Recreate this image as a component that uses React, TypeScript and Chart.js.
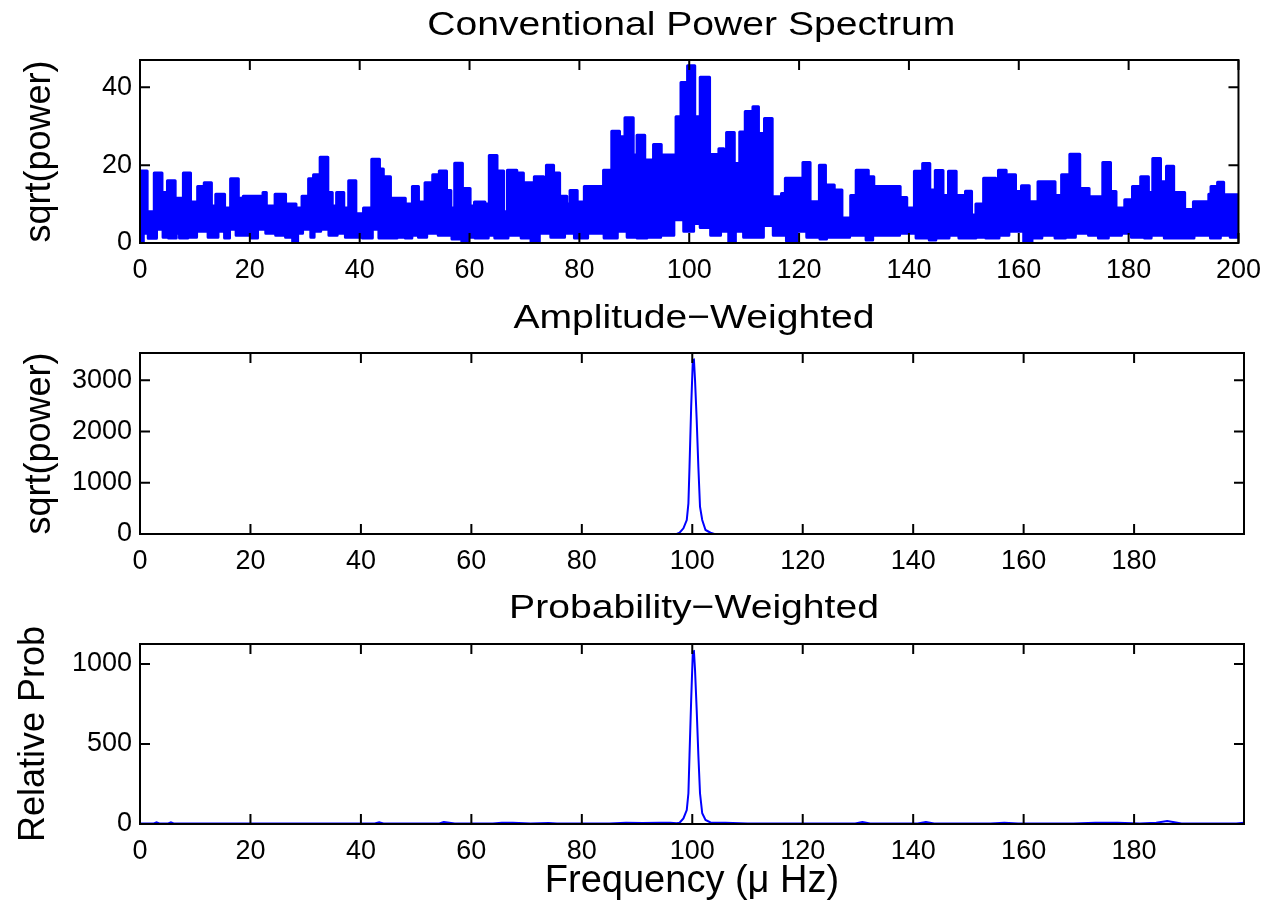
import React, { useEffect, useRef } from "react";
import { Chart, registerables } from "chart.js";

Chart.register(...registerables);

const FONT = '"Liberation Sans", Arial, Helvetica, sans-serif';
const BLUE = "#0000ff";

// ---- Panel 1: conventional power spectrum (upper / lower envelope of the dense trace) ----
const spectrumUpperFreq = [
  0, 1.3, 2.6, 4.0, 5.0, 6.4, 7.9, 9.2, 10.5, 11.7,
  13.0, 13.8, 15.4, 16.5, 17.9, 18.8, 22.4, 23.0, 24.6, 26.5,
  28.4, 29.5, 30.7, 31.6, 32.8, 34.2, 35.0, 35.8, 37.1, 38.0,
  39.3, 40.7, 42.2, 43.6, 44.3, 45.6, 48.3, 49.6, 50.7, 51.9,
  53.3, 54.5, 55.8, 56.6, 57.3, 58.7, 60.1, 60.9, 62.8, 63.6,
  65.0, 66.2, 66.9, 68.6, 69.8, 71.8, 73.5, 74.0, 75.3, 76.4,
  77.7, 78.3, 79.6, 80.9, 84.4, 85.9, 87.3, 88.3, 89.8, 90.5,
  91.9, 93.5, 94.9, 97.6, 98.5, 99.7, 101.0, 102.0, 103.7, 105.4,
  106.3, 106.8, 108.2, 109.2, 110.2, 111.6, 112.6, 113.7, 115.1, 116.8,
  117.5, 120.7, 122.0, 123.7, 124.8, 126.4, 127.8, 129.4, 130.4, 132.6,
  133.6, 138.4, 139.6, 141.0, 142.5, 143.8, 144.8, 146.2, 147.2, 148.6,
  150.3, 151.4, 152.2, 153.6, 155.8, 156.3, 157.7, 158.1, 159.4, 160.5,
  161.9, 163.5, 166.6, 167.8, 169.3, 171.1, 172.8, 175.3, 176.7, 177.7,
  179.3, 180.7, 182.2, 183.6, 184.4, 185.8, 186.9, 188.2, 190.2, 191.8,
  194.6, 195.0, 196.2, 197.3, 200,
];
const spectrumUpperValues = [
  18.5, 8, 18, 13, 16, 11.5, 18, 10.5, 14.5, 15.5,
  9.5, 12.5, 9, 16.5, 11.5, 12, 13, 9.5, 12.5, 10,
  9, 12, 16.5, 17.5, 22, 13, 9.5, 13, 9, 16,
  7.5, 9, 21.5, 19, 17, 11.5, 10, 14.5, 10.5, 15.5,
  17.5, 18.5, 13.5, 9, 20.5, 14, 9.5, 10.5, 10, 22.5,
  18.5, 8, 18.7, 18, 15.5, 17, 12, 20, 18, 12,
  10, 13.5, 10.5, 14.5, 18.7, 28.7, 27.3, 32.2, 22.6, 27.7,
  21.3, 25.3, 22.6, 32.4, 41.2, 45.5, 32.4, 42.6, 22.7, 24.2,
  18, 28.4, 20.4, 28.5, 33.8, 35, 28.1, 32, 11.9, 12.7,
  16.6, 20.7, 10.6, 20, 14.9, 13.6, 6.4, 12.2, 18.7, 17,
  14.5, 11.7, 9, 18.4, 20.4, 13.6, 18.6, 12.2, 18.4, 12.2,
  13.3, 7.2, 10, 16.6, 12.2, 18.7, 12.7, 17.5, 13.2, 14.7,
  10.6, 15.7, 12.2, 17.5, 22.8, 14, 11.9, 20.7, 13.2, 9,
  11.1, 14.5, 17, 13, 21.7, 15.7, 19.7, 13, 8.6, 10.6,
  12.5, 14.5, 15.6, 12.4, 12.4,
];
const spectrumLowerFreq = [
  0, 0.6, 1.5, 3.0, 4.2, 5.2, 6.6, 7.2, 8.7, 10.3,
  12.4, 14.2, 15.4, 16.3, 17.5, 18.7, 20.2, 21.4, 22.9, 24.7,
  26.5, 27.8, 28.7, 29.6, 31.1, 31.7, 32.9, 34.4, 35.9, 37.4,
  39.2, 40.5, 42.3, 43.5, 46.8, 48.3, 49.5, 50.7, 52.2, 54.3,
  56.8, 58.6, 59.8, 61.0, 63.4, 64.6, 67.0, 69.4, 71.2, 72.7,
  74.8, 77.3, 79.1, 81.5, 84.5, 86.9, 88.7, 90.5, 92.3, 94.8,
  97.2, 99.0, 100.8, 102.0, 103.9, 105.7, 107.2, 108.4, 109.9, 113.5,
  115.3, 117.7, 119.6, 121.4, 123.8, 125.0, 127.4, 129.2, 132.2, 133.4,
  138.3, 141.3, 143.7, 144.9, 147.3, 149.1, 152.2, 154.0, 156.4, 158.2,
  160.9, 162.4, 164.2, 166.6, 168.5, 170.3, 172.7, 174.5, 176.3, 178.7,
  180.5, 182.9, 184.1, 186.5, 188.9, 191.9, 194.9, 196.7, 198.5, 200,
];
const spectrumLowerValues = [
  0, 2.5, 1.2, 3.5, 1.5, 1.3, 2.5, 1.3, 1.5, 3,
  1.5, 3, 1.3, 3.5, 2, 2, 1.3, 3.5, 2.5, 2,
  1.5, 0, 2.5, 3.5, 1.5, 3, 3.5, 2, 2.5, 1.5,
  1.5, 1.3, 3.5, 1.3, 1.5, 1.3, 2, 1.5, 2.5, 2,
  1, 0, 1.5, 1.3, 2, 1.3, 2, 1.3, 0, 2.5,
  1.5, 2.5, 1.3, 2.5, 1.3, 3, 1.5, 1.3, 1.5, 2,
  6, 3, 5, 4, 2, 3, 0, 3, 1.5, 4.5,
  2, 0.5, 3, 1.5, 1, 1.5, 1.5, 2, 0.8, 2,
  2.5, 1.3, 0.8, 1.3, 2, 1.3, 1.5, 1.3, 2, 3,
  0, 1.3, 2, 1.3, 1.5, 2.5, 2, 1.3, 2, 2.5,
  1.5, 1.3, 2, 1.3, 1.3, 2, 1.3, 2, 1.5, 1.5,
];

// ---- Panel 2: amplitude-weighted ----
const ampFreq = [0, 97.2, 97.7, 98.4, 99.0, 99.3, 99.5, 99.8, 100.1, 100.3, 100.5, 100.8, 101.1, 101.4, 101.8, 102.4, 103.3, 104.0, 199.9];
const ampValues = [0, 0, 25, 111, 273, 598, 1312, 2481, 3392, 3400, 3002, 2222, 1312, 532, 273, 78, 25, 0, 0];

// ---- Panel 3: probability-weighted ----
const probFreq = [
  0, 2.5, 3.0, 3.5, 5.1, 5.6, 6.1, 42.5, 43.3, 44.1,
  54.2, 55.0, 56.0, 57.0, 63.9, 65.5, 67.5, 70.7, 74.0, 75.5,
  85.0, 88.0, 91.0, 94.0, 96.0, 97.2, 97.7, 98.4, 99.0, 99.3,
  99.5, 99.8, 100.1, 100.3, 100.5, 100.8, 101.1, 101.4, 101.8, 102.4,
  103.3, 104.0, 106.0, 110.0, 129.5, 130.8, 132.2, 140.8, 142.3, 143.8,
  154.0, 156.5, 159.0, 169.0, 173.0, 177.0, 181.0, 184.0, 186.0, 188.6,
  198.5, 199.9,
];
const probValues = [
  3, 3, 10, 3, 3, 10, 3, 3, 10, 3,
  3, 12, 8, 3, 3, 8, 8, 3, 6, 3,
  3, 8, 6, 8, 8, 5, 8, 35, 87, 192,
  431, 775, 1077, 1080, 962, 712, 431, 192, 67, 25,
  10, 8, 8, 3, 3, 12, 3, 3, 12, 3,
  3, 8, 3, 3, 8, 8, 3, 8, 18, 3,
  3, 8,
];

// ---- axes ----
const topXTicks = [0, 20, 40, 60, 80, 100, 120, 140, 160, 180, 200];
const lowerXTicks = [0, 20, 40, 60, 80, 100, 120, 140, 160, 180];
const topYTicks = [0, 20, 40];
const ampYTicks = [0, 1000, 2000, 3000];
const probYTicks = [0, 500, 1000];

const titles = ["Conventional Power Spectrum", "Amplitude\u2212Weighted", "Probability\u2212Weighted"];
const yLabels = ["sqrt(power)", "sqrt(power)", "Relative Prob"];
const xLabel = "Frequency (\u03bc Hz)";

function pts(xs: number[], ys: number[]) {
  const n = Math.min(xs.length, ys.length);
  const out: { x: number; y: number }[] = [];
  for (let i = 0; i < n; i++) out.push({ x: xs[i], y: ys[i] });
  return out;
}

const framePlugin = {
  id: "frameTitle",
  afterDatasetsDraw(chart: any, _args: any, opts: any) {
    const { ctx, chartArea: a, scales } = chart;
    ctx.save();
    ctx.strokeStyle = "#000";
    ctx.lineWidth = 2;
    ctx.strokeRect(a.left, a.top, a.right - a.left, a.bottom - a.top);
    const TL = 10;
    ctx.beginPath();
    for (const t of scales.x.ticks) {
      const px = scales.x.getPixelForValue(t.value);
      ctx.moveTo(px, a.bottom);
      ctx.lineTo(px, a.bottom - TL);
      ctx.moveTo(px, a.top);
      ctx.lineTo(px, a.top + TL);
    }
    for (const t of scales.y.ticks) {
      const py = scales.y.getPixelForValue(t.value);
      ctx.moveTo(a.left, py);
      ctx.lineTo(a.left + TL, py);
      ctx.moveTo(a.right, py);
      ctx.lineTo(a.right - TL, py);
    }
    ctx.stroke();
    if (opts && opts.text) {
      ctx.font = `34px ${FONT}`;
      ctx.fillStyle = "#000";
      ctx.textAlign = "center";
      ctx.textBaseline = "middle";
      ctx.translate((a.left + a.right) / 2 + 2, opts.y);
      ctx.scale(1.15, 1);
      ctx.fillText(opts.text, 0, 0);
    }
    ctx.restore();
  },
};

type Spec = {
  top: number;
  height: number;
  chartTop: number;
  chartBottom: number;
  title: string;
  titleY: number;
  xMax: number;
  xTicks: number[];
  yMax: number;
  yTicks: number[];
  yLabel: string;
  yLabelPad: number;
  xLabel?: string;
  datasets: any[];
};

function buildOptions(spec: Spec): any {
  return {
    responsive: false,
    animation: false,
    events: [],
    layout: { padding: { left: 0, right: 28, top: spec.chartTop, bottom: 0 } },
    plugins: {
      legend: { display: false },
      tooltip: { enabled: false },
      title: { display: false },
      frameTitle: { text: spec.title, y: spec.titleY },
    },
    scales: {
      x: {
        type: "linear",
        min: 0,
        max: spec.xMax,
        grid: { display: false, drawTicks: false },
        border: { display: false },
        afterBuildTicks: (s: any) => {
          s.ticks = spec.xTicks.map((v) => ({ value: v }));
        },
        afterFit: (s: any) => {
          s.height = spec.height - spec.chartBottom;
        },
        ticks: {
          color: "#000",
          font: { family: FONT, size: 27 },
          padding: 11,
          maxRotation: 0,
          autoSkip: false,
          callback: (v: any) => String(v),
        },
        title: spec.xLabel
          ? {
              display: true,
              text: spec.xLabel,
              color: "#000",
              font: { family: FONT, size: 38 },
              padding: { top: 0, bottom: 0 },
            }
          : { display: false },
      },
      y: {
        type: "linear",
        min: 0,
        max: spec.yMax,
        grid: { display: false, drawTicks: false },
        border: { display: false },
        afterBuildTicks: (s: any) => {
          s.ticks = spec.yTicks.map((v) => ({ value: v }));
        },
        afterFit: (s: any) => {
          s.width = 140;
        },
        ticks: {
          color: "#000",
          font: { family: FONT, size: 27 },
          padding: 8,
          autoSkip: false,
          callback: (v: any) => String(v),
        },
        title: {
          display: true,
          text: spec.yLabel,
          color: "#000",
          font: { family: FONT, size: 36 },
          padding: { top: spec.yLabelPad, bottom: 0 },
        },
      },
    },
  };
}

const specs: Spec[] = [
  {
    top: 0,
    height: 290,
    chartTop: 60,
    chartBottom: 243,
    title: titles[0],
    titleY: 26,
    xMax: 200,
    xTicks: topXTicks,
    yMax: 47,
    yTicks: topYTicks,
    yLabel: yLabels[0],
    yLabelPad: 18,
    datasets: [
      {
        // lower envelope: drawn last, its white fill masks the area under the trace
        data: pts(spectrumLowerFreq, spectrumLowerValues),
        borderColor: BLUE,
        backgroundColor: "#ffffff",
        borderWidth: 3,
        fill: "origin",
        stepped: true,
        pointRadius: 0,
        borderJoinStyle: "round",
        borderCapStyle: "round",
      },
      {
        data: pts(spectrumUpperFreq, spectrumUpperValues),
        borderColor: BLUE,
        backgroundColor: BLUE,
        borderWidth: 3,
        fill: "origin",
        stepped: true,
        pointRadius: 0,
        borderJoinStyle: "round",
        borderCapStyle: "round",
      },
    ],
  },
  {
    top: 290,
    height: 291,
    chartTop: 63,
    chartBottom: 244,
    title: titles[1],
    titleY: 29,
    xMax: 199.9,
    xTicks: lowerXTicks,
    yMax: 3530,
    yTicks: ampYTicks,
    yLabel: yLabels[1],
    yLabelPad: 18,
    datasets: [
      {
        data: pts(ampFreq, ampValues),
        borderColor: BLUE,
        borderWidth: 2,
        fill: false,
        pointRadius: 0,
        tension: 0,
      },
    ],
  },
  {
    top: 581,
    height: 323,
    chartTop: 63,
    chartBottom: 243,
    title: titles[2],
    titleY: 28,
    xMax: 199.9,
    xTicks: lowerXTicks,
    yMax: 1125,
    yTicks: probYTicks,
    yLabel: yLabels[2],
    yLabelPad: 12,
    xLabel: xLabel,
    datasets: [
      {
        data: pts(probFreq, probValues),
        borderColor: BLUE,
        borderWidth: 2,
        fill: false,
        pointRadius: 0,
        tension: 0,
      },
    ],
  },
];

function Panel({ spec }: { spec: Spec }) {
  const ref = useRef<HTMLCanvasElement>(null);
  useEffect(() => {
    if (!ref.current) return;
    const chart = new Chart(ref.current, {
      type: "line",
      data: { datasets: spec.datasets },
      options: buildOptions(spec),
      plugins: [framePlugin as any],
    });
    return () => chart.destroy();
  }, [spec]);
  return (
    <canvas
      ref={ref}
      width={1272}
      height={spec.height}
      style={{
        position: "absolute",
        left: 0,
        top: spec.top,
        width: 1272,
        height: spec.height,
        display: "block",
      }}
    />
  );
}

export default function App() {
  return (
    <div
      style={{
        position: "absolute",
        left: 0,
        top: 0,
        width: 1272,
        height: 904,
        background: "#fff",
        overflow: "hidden",
      }}
    >
      {specs.map((s, i) => (
        <Panel key={i} spec={s} />
      ))}
    </div>
  );
}
